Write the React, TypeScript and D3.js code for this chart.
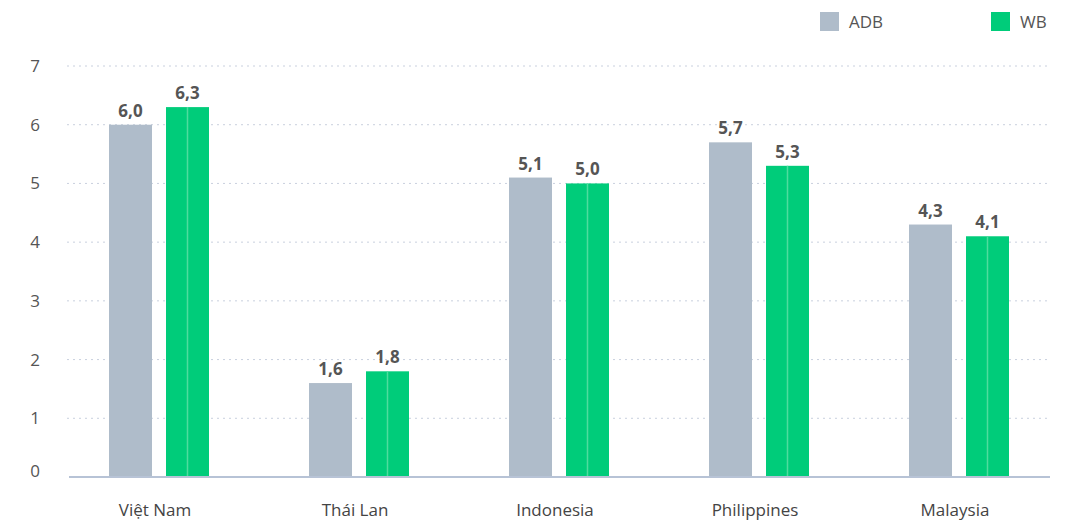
import React from "react";
import * as d3 from "d3";

const categories = ["Việt Nam", "Thái Lan", "Indonesia", "Philippines", "Malaysia"];
const seriesNames = ["ADB", "WB"];
const adbValues = [6.0, 1.6, 5.1, 5.7, 4.3];
const wbValues = [6.3, 1.8, 5.0, 5.3, 4.1];
const yTicks = [0, 1, 2, 3, 4, 5, 6, 7];

const W = 1068;
const H = 523;
const COLORS = ["#AFBCCA", "#00CC7A"];
const FONT = "'Open Sans', Lato, sans-serif";

export default function App() {
  const x = d3.scaleBand<string>().domain(categories).range([59, 1059]).padding(0);
  const y = d3.scaleLinear().domain([0, 7]).range([477, 66]);
  const barW = 43;
  const gap = 14;
  const fmt = (v: number) => v.toFixed(1).replace(".", ",");
  const series = [adbValues, wbValues];

  return (
    <svg width={W} height={H} style={{ position: "absolute", left: 0, top: 0, background: "#fff" }}>
      {yTicks.map((t) => (
        <g key={t}>
          {t > 0 && (
            <line x1={67} x2={1050} y1={y(t)} y2={y(t)} stroke="#C9D0DE" strokeWidth={1} strokeDasharray="2,4" />
          )}
          <text x={40} y={t === 0 ? y(t) - 6 : y(t)} dy="0.35em" textAnchor="end" fontFamily={FONT} fontSize={17} fill="#555">
            {t}
          </text>
        </g>
      ))}
      {categories.map((c, i) => {
        const cx = (x(c) as number) + x.bandwidth() / 2;
        return (
          <g key={c}>
            {series.map((vals, s) => {
              const bx = s === 0 ? cx - gap / 2 - barW : cx + gap / 2;
              const v = vals[i];
              return (
                <g key={s}>
                  <rect x={bx} y={y(v)} width={barW} height={y(0) - y(v)} fill={COLORS[s]} />
                  {s === 1 && (
                    <line x1={bx + barW / 2} x2={bx + barW / 2} y1={y(v)} y2={y(0)} stroke="#4FDC9E" strokeWidth={1.5} />
                  )}
                  <text
                    x={bx + barW / 2}
                    y={y(v) - 8}
                    textAnchor="middle"
                    fontFamily={FONT}
                    fontWeight={700}
                    fontSize={17}
                    fill="#555"
                  >
                    {fmt(v)}
                  </text>
                </g>
              );
            })}
            <text x={cx - 4} y={510} dy="0.35em" textAnchor="middle" fontFamily={FONT} fontSize={17} fill="#444">
              {c}
            </text>
          </g>
        );
      })}
      <line x1={69} x2={1050} y1={y(0)} y2={y(0)} stroke="#B7C3D6" strokeWidth={2} />
      {seriesNames.map((n, i) => {
        const lx = i === 0 ? 820 : 991;
        return (
          <g key={n}>
            <rect x={lx} y={12} width={19} height={19} fill={COLORS[i]} />
            <text x={lx + 29} y={22} dy="0.35em" fontFamily={FONT} fontSize={17} fill="#555">
              {n}
            </text>
          </g>
        );
      })}
    </svg>
  );
}
